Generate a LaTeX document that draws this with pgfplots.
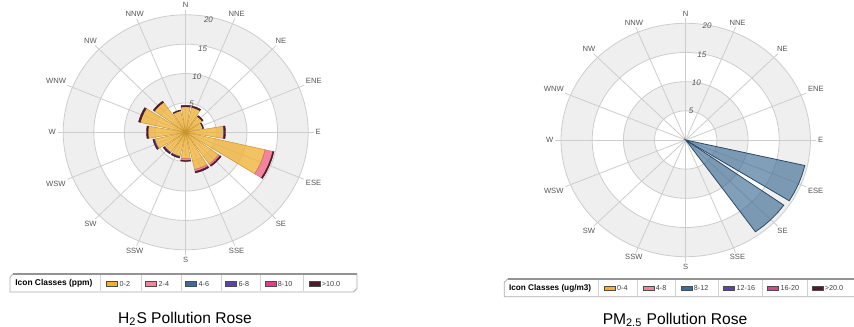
\documentclass[border=0pt]{standalone}
\usepackage{fontspec}
\setmainfont{Liberation Sans}
\usepackage{pgfplots}
\usepackage{pgfplotstable}
\pgfplotsset{compat=1.18}
\definecolor{band}{HTML}{EFEFEF}
\definecolor{gridc}{HTML}{CDCDCD}
\definecolor{lab}{HTML}{555555}
\definecolor{cO}{HTML}{F0B030}
\definecolor{cOe}{HTML}{C99530}
\definecolor{cP}{HTML}{F4849A}
\definecolor{cB}{HTML}{3E6C94}
\definecolor{cBe}{HTML}{2C4A68}
\definecolor{cU}{HTML}{5B43A8}
\definecolor{cM}{HTML}{E2408A}
\definecolor{cK}{HTML}{4A1C2C}

% H2S: segment lengths per compass bearing (0-2, 2-4, 6-8, >10 classes)
\pgfplotstableread{
dir o p u k
0     4.35 0    0    0.25
22.5  4.35 0    0    0.25
45    3.30 0    0    0.20
67.5  2.85 0    0    0.15
90    6.20 0    0.10 0.20
112.5 13.3 1.30 0    0.20
135   6.60 0.30 0    0.20
157.5 6.50 0.35 0    0.25
180   4.50 0.30 0    0.15
202.5 4.20 0    0.15 0.15
225   4.20 0    0.15 0.15
247.5 5.20 0    0.15 0.15
270   6.15 0    0    0.25
292.5 7.60 0    0    0.30
315   6.25 0    0    0.25
337.5 3.75 0    0    0.15
}\hstable

% PM2.5: 8-12 class per compass bearing
\pgfplotstableread{
dir b
112.5 19.6
135   19.3
}\pmtable

\pgfplotsset{
  rose/.style={scale only axis, hide axis, xmin=-20, xmax=20, ymin=-20, ymax=20, clip=false, anchor=center},
  hsO/.style={fill=cO, fill opacity=0.75, draw=cOe, line width=0.25pt},
  hsP/.style={fill=cP, draw=cP!80!black, line width=0.2pt},
  hsU/.style={fill=cU, draw=cU, line width=0.2pt},
  hsK/.style={fill=cK, draw=cK, line width=0.2pt},
  pmB/.style={fill=cB, fill opacity=0.65, draw=cBe, line width=0.4pt},
}

\newcommand\clabfont{\fontsize{3.8}{4.2}\selectfont}
\newcommand\rlabfont{\fontsize{4}{4.5}\selectfont\itshape}

% wedge: bearing, inner r, outer r, style
\newcommand\wedgeplot[4]{%
  \pgfmathsetmacro\wA{90-#1-9.6}\pgfmathsetmacro\wB{90-#1-4.8}%
  \pgfmathsetmacro\wC{90-#1}\pgfmathsetmacro\wD{90-#1+4.8}\pgfmathsetmacro\wE{90-#1+9.6}%
  \edef\tmp{\noexpand\addplot[#4, data cs=polar] coordinates {(\wA,#2) (\wA,#3) (\wB,#3) (\wC,#3) (\wD,#3) (\wE,#3) (\wE,#2) (\wD,#2) (\wC,#2) (\wB,#2) (\wA,#2)} -- cycle;}\tmp}

\newcommand\rosebg{%
  \fill[band] (axis cs:0,0) circle[radius=20];
  \fill[white] (axis cs:0,0) circle[radius=15];
  \fill[band] (axis cs:0,0) circle[radius=10];
  \fill[white] (axis cs:0,0) circle[radius=5];
  \foreach \r in {5,10,15,20}{\edef\tmp{\noexpand\draw[gridc, line width=0.4pt] (axis cs:0,0) circle[radius=\r];}\tmp}
  \foreach \g in {0,22.5,...,337.5}{%
    \pgfmathsetmacro\gx{20.9*cos(\g)}\pgfmathsetmacro\gy{20.9*sin(\g)}%
    \edef\tmp{\noexpand\draw[gridc, line width=0.4pt] (axis cs:0,0) -- (axis cs:\gx,\gy);}\tmp}
  \foreach \b/\lab in {0/N,22.5/NNE,45/NE,67.5/ENE,90/E,112.5/ESE,135/SE,157.5/SSE,180/S,202.5/SSW,225/SW,247.5/WSW,270/W,292.5/WNW,315/NW,337.5/NNW}{%
    \pgfmathsetmacro\an{270-\b}\pgfmathsetmacro\lx{20.9*sin(\b)}\pgfmathsetmacro\ly{20.9*cos(\b)}%
    \edef\tmp{\noexpand\node[font=\noexpand\clabfont, text=lab, inner sep=0.8pt, anchor=\an] at (axis cs:\lx,\ly) {\lab};}\tmp}
}

\begin{document}
\begin{tikzpicture}
\useasboundingbox (0,0) rectangle (427pt,163pt);

% ---------------- H2S rose ----------------
\begin{axis}[rose, at={(92.85pt,96.85pt)}, width=122.5pt, height=117.5pt]
\rosebg
\pgfplotsforeachungrouped \i in {0,...,15}{%
  \pgfplotstablegetelem{\i}{dir}\of\hstable\let\wdir\pgfplotsretval
  \pgfplotstablegetelem{\i}{o}\of\hstable\let\vo\pgfplotsretval
  \pgfplotstablegetelem{\i}{p}\of\hstable\let\vp\pgfplotsretval
  \pgfplotstablegetelem{\i}{u}\of\hstable\let\vu\pgfplotsretval
  \pgfplotstablegetelem{\i}{k}\of\hstable\let\vk\pgfplotsretval
  \pgfmathsetmacro\ra{\vo}\pgfmathsetmacro\rb{\ra+\vp}\pgfmathsetmacro\rc{\rb+\vu}\pgfmathsetmacro\rd{\rc+\vk}%
  \wedgeplot{\wdir}{0}{\ra}{hsO}%
  \ifdim\vp pt>0pt \wedgeplot{\wdir}{\ra}{\rb}{hsP}\fi
  \ifdim\vu pt>0pt \wedgeplot{\wdir}{\rb}{\rc}{hsU}\fi
  \ifdim\vk pt>0pt \wedgeplot{\wdir}{\rc}{\rd}{hsK}\fi
}
\node[font=\rlabfont, text=lab] at (axis cs:{5.0*sin(11)},{5.0*cos(11)}) {5};
\node[font=\rlabfont, text=lab] at (axis cs:{9.6*sin(11)},{9.6*cos(11)}) {10};
\node[font=\rlabfont, text=lab] at (axis cs:{14.5*sin(11)},{14.5*cos(11)}) {15};
\node[font=\rlabfont, text=lab] at (axis cs:{19.5*sin(11)},{19.5*cos(11)}) {20};
\end{axis}

% ---------------- PM2.5 rose ----------------
\begin{axis}[rose, at={(342.85pt,93pt)}, width=124.7pt, height=116.7pt]
\rosebg
\pgfplotsforeachungrouped \i in {0,1}{%
  \pgfplotstablegetelem{\i}{dir}\of\pmtable\let\wdir\pgfplotsretval
  \pgfplotstablegetelem{\i}{b}\of\pmtable\let\vb\pgfplotsretval
  \wedgeplot{\wdir}{0}{\vb}{pmB}%
}
\node[font=\rlabfont, text=lab] at (axis cs:{5.0*sin(10)},{5.0*cos(10)}) {5};
\node[font=\rlabfont, text=lab] at (axis cs:{9.9*sin(10)},{9.9*cos(10)}) {10};
\node[font=\rlabfont, text=lab] at (axis cs:{14.9*sin(10)},{14.9*cos(10)}) {15};
\node[font=\rlabfont, text=lab] at (axis cs:{19.8*sin(10)},{19.8*cos(10)}) {20};
\end{axis}

% ---------------- legends and titles (pixel grid) ----------------
\begin{scope}[shift={(0pt,163pt)}, x=0.5pt, y=-0.5pt]
  % left legend
  \draw[gray!65, line width=0.4pt, fill=white] (10,277.5) -- (13,274) -- (357,274) -- (357,288.5) -- (353.5,292) -- (10,292) -- cycle;
  \draw[gray!85, line width=0.6pt] (13,274) -- (357,274);
  \node[anchor=west, inner sep=0pt, font=\fontsize{4.2}{5}\selectfont\bfseries] at (15,283.5) {Icon Classes (ppm)};
  \foreach \sx in {100.7,141.7,181.7,221.7,260,303.3}{\draw[gray!35, line width=0.3pt] (\sx,275) -- (\sx,291);}
  \foreach \sx/\lc/\lt in {106.7/cO/0-2,145.7/cP/2-4,185.7/cB/4-6,225.7/cU/6-8,265/cM/8-10,309/cK/{>10.0}}{%
    \draw[fill=\lc, draw=black!70, line width=0.3pt] (\sx,281.5) rectangle ++(11,4.4);
    \node[anchor=west, inner sep=0pt, text=black!75, font=\fontsize{3.6}{4.2}\selectfont] at (\sx+12.5,283.7) {\lt};}
  % right legend
  \draw[gray!65, line width=0.4pt, fill=white] (504.3,282.5) -- (507.5,279) -- (860,279) -- (860,296.7) -- (504.3,296.7) -- cycle;
  \draw[gray!85, line width=0.6pt] (507.5,279) -- (860,279);
  \node[anchor=west, inner sep=0pt, font=\fontsize{4.1}{5}\selectfont\bfseries] at (508.7,288.3) {Icon Classes (ug/m3)};
  \foreach \sx in {598.7,637,675.3,718.7,762,807}{\draw[gray!35, line width=0.3pt] (\sx,280) -- (\sx,295.7);}
  \foreach \sx/\lc/\lt in {604.3/cO/0-4,643/cP/4-8,681/cB/8-12,723.7/cU/12-16,767.7/cM/16-20,812/cK/{>20.0}}{%
    \draw[fill=\lc, draw=black!70, line width=0.3pt] (\sx,286.2) rectangle ++(11,4.4);
    \node[anchor=west, inner sep=0pt, text=black!75, font=\fontsize{3.6}{4.2}\selectfont] at (\sx+12.5,288.4) {\lt};}
  % titles
  \node[anchor=base, inner sep=0pt, font=\fontsize{7.8}{9}\selectfont] at (185,323) {H\textsubscript{2}S Pollution Rose};
  \node[anchor=base, inner sep=0pt, font=\fontsize{7.8}{9}\selectfont] at (675,324) {PM\textsubscript{2.5} Pollution Rose};
\end{scope}
\end{tikzpicture}
\end{document}
